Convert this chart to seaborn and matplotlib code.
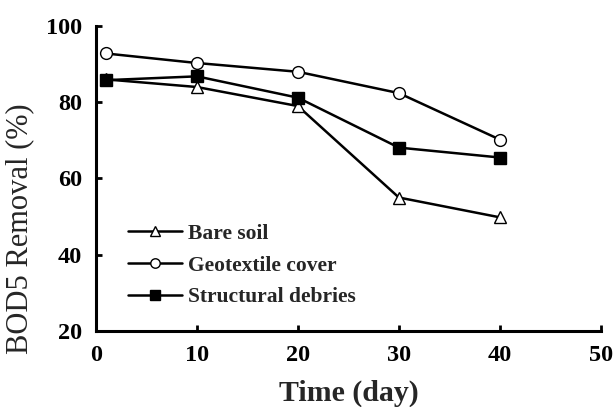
import matplotlib
matplotlib.use("Agg")
import matplotlib.pyplot as plt
import numpy as np
import pandas as pd
import seaborn as sns

# values
days = [1, 10, 20, 30, 40]
bare_soil = [86.0, 84.0, 79.0, 55.0, 49.8]
geotextile = [92.8, 90.3, 88.0, 82.4, 70.2]
debries = [85.8, 86.8, 81.2, 68.1, 65.5]

series_names = ["Bare soil", "Geotextile cover", "Structural debries"]
series_markers = ["^", "o", "s"]
series_faces = ["white", "white", "black"]

x_ticks = [0, 10, 20, 30, 40, 50]
y_ticks = [20, 40, 60, 80, 100]

df = pd.DataFrame({
    "day": days * 3,
    "removal": bare_soil + geotextile + debries,
    "treatment": np.repeat(series_names, len(days)),
})

sns.set_style("ticks")
plt.rcParams["font.family"] = ["Liberation Serif", "DejaVu Serif"]

fig = plt.figure(figsize=(6.15, 4.07), dpi=100)
ax = fig.add_axes([0.156, 0.187, 0.821, 0.749])

for name, mk, face in zip(series_names, series_markers, series_faces):
    sub = df[df["treatment"] == name]
    sns.lineplot(data=sub, x="day", y="removal", ax=ax, color="black",
                 linewidth=1.8, marker=mk, markersize=8.5,
                 markerfacecolor=face, markeredgecolor="black",
                 markeredgewidth=1.0, label=name)

ax.set_xlim(0, 50)
ax.set_ylim(20, 100)
ax.set_xticks(x_ticks)
ax.set_yticks(y_ticks)

for side in ["top", "right"]:
    ax.spines[side].set_visible(False)
for side in ["left", "bottom"]:
    ax.spines[side].set_linewidth(2.2)
    ax.spines[side].set_color("black")

ax.tick_params(direction="in", length=4, width=2, pad=10, colors="black")
for lab in ax.get_xticklabels() + ax.get_yticklabels():
    lab.set_fontsize(17.5)
    lab.set_fontweight("bold")

ax.set_xlabel("Time (day)", fontsize=21.5, fontweight="bold")
ax.set_ylabel("BOD5 Removal (%)", fontsize=22)
ax.xaxis.set_label_coords(0.5, -0.16)
ax.yaxis.set_label_coords(-0.122, 0.335)

ax.legend(loc="upper left", bbox_to_anchor=(0.063, 0.352), frameon=False,
          prop={"size": 15.5, "weight": "bold"}, handlelength=2.5,
          handletextpad=0.28, labelspacing=0.55, borderpad=0,
          borderaxespad=0, markerscale=0.8)

fig.savefig("out.png", dpi=100)
